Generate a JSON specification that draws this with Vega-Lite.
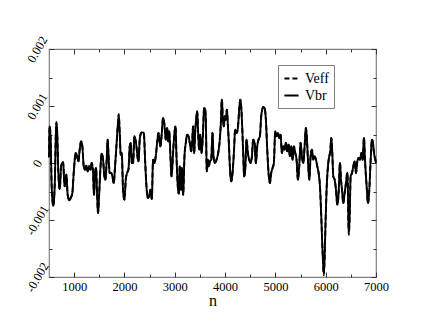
{
  "$schema": "https://vega.github.io/schema/vega-lite/v6.json",
  "width": 327,
  "height": 228,
  "autosize": {"type": "none"},
  "padding": {"left": 49, "top": 49, "right": 47, "bottom": 50},
  "background": "white",
  "config": {
    "view": {"stroke": "#808080", "strokeWidth": 1.2},
    "font": "Liberation Serif",
    "axis": {
      "domain": false,
      "grid": false,
      "tickColor": "#333333",
      "tickWidth": 1,
      "labelFont": "Liberation Serif",
      "labelFontSize": 12.5,
      "labelColor": "black",
      "titleFont": "Liberation Serif",
      "titleColor": "black",
      "titleFontWeight": "normal"
    }
  },
  "data": {
    "values": [
      {"n": 500, "Vbr": 0.0001, "Veff": 0.0001},
      {"n": 513, "Vbr": 0.000643, "Veff": 0.000643},
      {"n": 533, "Vbr": 0.000409, "Veff": 0.000409},
      {"n": 553, "Vbr": -0.000409, "Veff": -0.000409},
      {"n": 586, "Vbr": -0.000749, "Veff": -0.000749},
      {"n": 613, "Vbr": -0.000409, "Veff": -0.000409},
      {"n": 646, "Vbr": 0.00069, "Veff": 0.00072},
      {"n": 659, "Vbr": 0.000614, "Veff": 0.000614},
      {"n": 686, "Vbr": -0.000175, "Veff": -0.000175},
      {"n": 712, "Vbr": -0.000456, "Veff": -0.000456},
      {"n": 745, "Vbr": -0.000029, "Veff": -0.000029},
      {"n": 779, "Vbr": 0.000012, "Veff": 0.000012},
      {"n": 812, "Vbr": -0.000409, "Veff": -0.000409},
      {"n": 845, "Vbr": -0.000205, "Veff": -0.000205},
      {"n": 871, "Vbr": -0.000556, "Veff": -0.000556},
      {"n": 905, "Vbr": -0.000655, "Veff": -0.000655},
      {"n": 931, "Vbr": -0.000614, "Veff": -0.000614},
      {"n": 964, "Vbr": -0.000526, "Veff": -0.000526},
      {"n": 991, "Vbr": -0.000175, "Veff": -0.000175},
      {"n": 1031, "Vbr": 0.000175, "Veff": 0.000175},
      {"n": 1057, "Vbr": 0.000117, "Veff": 0.000117},
      {"n": 1084, "Vbr": 0.000029, "Veff": 0.000029},
      {"n": 1110, "Vbr": 0.000234, "Veff": 0.000234},
      {"n": 1137, "Vbr": 0.00038, "Veff": 0.00038},
      {"n": 1163, "Vbr": 0.000292, "Veff": 0.000292},
      {"n": 1190, "Vbr": -0.000058, "Veff": -0.000058},
      {"n": 1216, "Vbr": -0.000117, "Veff": -0.000117},
      {"n": 1243, "Vbr": -0.000047, "Veff": -0.000047},
      {"n": 1269, "Vbr": -0.000146, "Veff": -0.000146},
      {"n": 1296, "Vbr": -0.000058, "Veff": -0.000058},
      {"n": 1322, "Vbr": -0.000117, "Veff": -0.000117},
      {"n": 1349, "Vbr": 0.0, "Veff": 0.0},
      {"n": 1376, "Vbr": -0.000175, "Veff": -0.000175},
      {"n": 1395, "Vbr": -0.000556, "Veff": -0.000556},
      {"n": 1415, "Vbr": -0.000175, "Veff": -0.000175},
      {"n": 1435, "Vbr": -0.000088, "Veff": -0.000088},
      {"n": 1455, "Vbr": -0.000526, "Veff": -0.000526},
      {"n": 1475, "Vbr": -0.000877, "Veff": -0.000877},
      {"n": 1495, "Vbr": -0.000585, "Veff": -0.000585},
      {"n": 1521, "Vbr": -0.000117, "Veff": -0.000117},
      {"n": 1548, "Vbr": 0.000164, "Veff": 0.000164},
      {"n": 1575, "Vbr": 0.000058, "Veff": 0.000058},
      {"n": 1601, "Vbr": -0.000234, "Veff": -0.000234},
      {"n": 1621, "Vbr": -0.000292, "Veff": -0.000292},
      {"n": 1641, "Vbr": -0.000058, "Veff": -0.000058},
      {"n": 1667, "Vbr": 0.000409, "Veff": 0.000409},
      {"n": 1681, "Vbr": 0.000175, "Veff": 0.000175},
      {"n": 1707, "Vbr": -0.000175, "Veff": -0.000175},
      {"n": 1734, "Vbr": -0.000175, "Veff": -0.000175},
      {"n": 1760, "Vbr": -0.000234, "Veff": -0.000234},
      {"n": 1787, "Vbr": -0.000351, "Veff": -0.000351},
      {"n": 1813, "Vbr": -0.000058, "Veff": -0.000058},
      {"n": 1840, "Vbr": 0.000292, "Veff": 0.000292},
      {"n": 1866, "Vbr": 0.000643, "Veff": 0.000643},
      {"n": 1886, "Vbr": 0.000819, "Veff": 0.00086},
      {"n": 1906, "Vbr": 0.000526, "Veff": 0.000526},
      {"n": 1926, "Vbr": 0.000146, "Veff": 0.000146},
      {"n": 1946, "Vbr": 0.000175, "Veff": 0.000175},
      {"n": 1972, "Vbr": -0.000468, "Veff": -0.000468},
      {"n": 1999, "Vbr": -0.000643, "Veff": -0.000643},
      {"n": 2026, "Vbr": -0.000292, "Veff": -0.000292},
      {"n": 2052, "Vbr": -0.000175, "Veff": -0.000175},
      {"n": 2079, "Vbr": -0.000117, "Veff": -0.000117},
      {"n": 2105, "Vbr": 0.000292, "Veff": 0.000292},
      {"n": 2125, "Vbr": 0.000351, "Veff": 0.000351},
      {"n": 2145, "Vbr": 0.0, "Veff": 0.0},
      {"n": 2171, "Vbr": 0.0, "Veff": 0.0},
      {"n": 2198, "Vbr": 0.000468, "Veff": 0.000468},
      {"n": 2218, "Vbr": 0.000409, "Veff": 0.000409},
      {"n": 2238, "Vbr": 0.000292, "Veff": 0.000292},
      {"n": 2258, "Vbr": 0.000117, "Veff": 0.000117},
      {"n": 2278, "Vbr": 0.000029, "Veff": 0.000029},
      {"n": 2304, "Vbr": 0.000409, "Veff": 0.000409},
      {"n": 2331, "Vbr": 0.000526, "Veff": 0.000526},
      {"n": 2357, "Vbr": 0.000538, "Veff": 0.000538},
      {"n": 2384, "Vbr": 0.000526, "Veff": 0.000526},
      {"n": 2410, "Vbr": 0.000058, "Veff": 0.000058},
      {"n": 2437, "Vbr": -0.000409, "Veff": -0.000409},
      {"n": 2463, "Vbr": -0.000614, "Veff": -0.000614},
      {"n": 2490, "Vbr": -0.000585, "Veff": -0.000585},
      {"n": 2516, "Vbr": -0.000468, "Veff": -0.000468},
      {"n": 2543, "Vbr": -0.000632, "Veff": -0.000632},
      {"n": 2569, "Vbr": 0.000058, "Veff": 0.000058},
      {"n": 2596, "Vbr": 0.0, "Veff": 0.0},
      {"n": 2622, "Vbr": 0.000117, "Veff": 0.000117},
      {"n": 2649, "Vbr": 0.000351, "Veff": 0.000351},
      {"n": 2676, "Vbr": 0.000526, "Veff": 0.000526},
      {"n": 2695, "Vbr": 0.000409, "Veff": 0.000409},
      {"n": 2715, "Vbr": 0.000292, "Veff": 0.000292},
      {"n": 2742, "Vbr": 0.000526, "Veff": 0.000526},
      {"n": 2768, "Vbr": 0.000789, "Veff": 0.000789},
      {"n": 2795, "Vbr": 0.000673, "Veff": 0.000673},
      {"n": 2821, "Vbr": 0.000409, "Veff": 0.000409},
      {"n": 2848, "Vbr": 0.000614, "Veff": 0.000614},
      {"n": 2868, "Vbr": 0.00038, "Veff": 0.00038},
      {"n": 2888, "Vbr": 0.000556, "Veff": 0.000556},
      {"n": 2914, "Vbr": 0.000117, "Veff": 0.000117},
      {"n": 2934, "Vbr": -0.000234, "Veff": -0.000234},
      {"n": 2954, "Vbr": -0.000029, "Veff": -0.000029},
      {"n": 2974, "Vbr": 0.000292, "Veff": 0.000292},
      {"n": 2994, "Vbr": 0.000526, "Veff": 0.000526},
      {"n": 3014, "Vbr": 0.000643, "Veff": 0.000643},
      {"n": 3034, "Vbr": 0.000117, "Veff": 0.000117},
      {"n": 3060, "Vbr": -0.000409, "Veff": -0.000409},
      {"n": 3080, "Vbr": -0.000538, "Veff": -0.000538},
      {"n": 3100, "Vbr": -0.000058, "Veff": -0.000058},
      {"n": 3120, "Vbr": -0.000468, "Veff": -0.000468},
      {"n": 3140, "Vbr": -0.000088, "Veff": -0.000088},
      {"n": 3166, "Vbr": -0.000556, "Veff": -0.000556},
      {"n": 3193, "Vbr": 0.000117, "Veff": 0.000117},
      {"n": 3219, "Vbr": 0.000351, "Veff": 0.000351},
      {"n": 3246, "Vbr": 0.000497, "Veff": 0.000497},
      {"n": 3272, "Vbr": 0.000468, "Veff": 0.000468},
      {"n": 3299, "Vbr": 0.000351, "Veff": 0.000351},
      {"n": 3326, "Vbr": 0.000205, "Veff": 0.000205},
      {"n": 3345, "Vbr": 0.000351, "Veff": 0.000351},
      {"n": 3365, "Vbr": 0.000643, "Veff": 0.000643},
      {"n": 3385, "Vbr": 0.000175, "Veff": 0.000175},
      {"n": 3405, "Vbr": 0.000526, "Veff": 0.000526},
      {"n": 3425, "Vbr": 0.00076, "Veff": 0.00076},
      {"n": 3445, "Vbr": 0.000906, "Veff": 0.000906},
      {"n": 3465, "Vbr": 0.000526, "Veff": 0.000526},
      {"n": 3485, "Vbr": 0.000234, "Veff": 0.000234},
      {"n": 3505, "Vbr": 0.000497, "Veff": 0.000497},
      {"n": 3531, "Vbr": 0.000175, "Veff": 0.000175},
      {"n": 3558, "Vbr": 0.000468, "Veff": 0.000468},
      {"n": 3584, "Vbr": 0.000965, "Veff": 0.000965},
      {"n": 3604, "Vbr": 0.000936, "Veff": 0.000936},
      {"n": 3617, "Vbr": 0.00076, "Veff": 0.00076},
      {"n": 3637, "Vbr": -0.000146, "Veff": -0.000146},
      {"n": 3657, "Vbr": 0.000058, "Veff": 0.000058},
      {"n": 3677, "Vbr": -0.000058, "Veff": -0.000058},
      {"n": 3697, "Vbr": 0.000029, "Veff": 0.000029},
      {"n": 3724, "Vbr": 0.000058, "Veff": 0.000058},
      {"n": 3750, "Vbr": 0.000526, "Veff": 0.000526},
      {"n": 3770, "Vbr": 0.000117, "Veff": 0.000117},
      {"n": 3796, "Vbr": 0.0, "Veff": 0.0},
      {"n": 3830, "Vbr": 0.000058, "Veff": 0.000058},
      {"n": 3863, "Vbr": 0.000175, "Veff": 0.000175},
      {"n": 3889, "Vbr": 0.000351, "Veff": 0.000351},
      {"n": 3916, "Vbr": 0.000702, "Veff": 0.000702},
      {"n": 3936, "Vbr": 0.001111, "Veff": 0.001111},
      {"n": 3956, "Vbr": 0.00076, "Veff": 0.00076},
      {"n": 3976, "Vbr": 0.000643, "Veff": 0.000643},
      {"n": 3996, "Vbr": 0.000819, "Veff": 0.000819},
      {"n": 4015, "Vbr": 0.00076, "Veff": 0.00076},
      {"n": 4035, "Vbr": 0.000936, "Veff": 0.000936},
      {"n": 4055, "Vbr": 0.000673, "Veff": 0.000673},
      {"n": 4075, "Vbr": 0.000351, "Veff": 0.000351},
      {"n": 4095, "Vbr": -0.000058, "Veff": -0.000058},
      {"n": 4122, "Vbr": -0.000322, "Veff": -0.000322},
      {"n": 4148, "Vbr": -0.000175, "Veff": -0.000175},
      {"n": 4175, "Vbr": 0.000175, "Veff": 0.000175},
      {"n": 4201, "Vbr": 0.000585, "Veff": 0.000585},
      {"n": 4228, "Vbr": 0.000526, "Veff": 0.000526},
      {"n": 4254, "Vbr": 0.000614, "Veff": 0.000614},
      {"n": 4281, "Vbr": 0.000936, "Veff": 0.000936},
      {"n": 4301, "Vbr": 0.001111, "Veff": 0.001111},
      {"n": 4320, "Vbr": 0.000994, "Veff": 0.000994},
      {"n": 4340, "Vbr": 0.000643, "Veff": 0.000643},
      {"n": 4360, "Vbr": 0.000175, "Veff": 0.000175},
      {"n": 4380, "Vbr": -0.000234, "Veff": -0.000234},
      {"n": 4400, "Vbr": -0.000117, "Veff": -0.000117},
      {"n": 4427, "Vbr": 0.000409, "Veff": 0.000409},
      {"n": 4453, "Vbr": 0.000175, "Veff": 0.000175},
      {"n": 4480, "Vbr": 0.000058, "Veff": 0.000058},
      {"n": 4506, "Vbr": 0.0, "Veff": 0.0},
      {"n": 4533, "Vbr": 0.000117, "Veff": 0.000117},
      {"n": 4559, "Vbr": 0.000409, "Veff": 0.000409},
      {"n": 4586, "Vbr": 0.000351, "Veff": 0.000351},
      {"n": 4612, "Vbr": 0.0, "Veff": 0.0},
      {"n": 4639, "Vbr": 0.000292, "Veff": 0.000292},
      {"n": 4665, "Vbr": 0.000409, "Veff": 0.000409},
      {"n": 4692, "Vbr": 0.000468, "Veff": 0.000468},
      {"n": 4718, "Vbr": 0.000819, "Veff": 0.000819},
      {"n": 4738, "Vbr": 0.000936, "Veff": 0.000936},
      {"n": 4758, "Vbr": 0.000982, "Veff": 0.000982},
      {"n": 4785, "Vbr": 0.000965, "Veff": 0.000965},
      {"n": 4811, "Vbr": 0.00076, "Veff": 0.00076},
      {"n": 4838, "Vbr": 0.000234, "Veff": 0.000234},
      {"n": 4864, "Vbr": -0.000175, "Veff": -0.000175},
      {"n": 4891, "Vbr": -0.000351, "Veff": -0.000351},
      {"n": 4917, "Vbr": -0.000175, "Veff": -0.000175},
      {"n": 4944, "Vbr": -0.000088, "Veff": -0.000088},
      {"n": 4970, "Vbr": 0.0, "Veff": 0.0},
      {"n": 4997, "Vbr": 0.000556, "Veff": 0.000556},
      {"n": 5023, "Vbr": 0.000468, "Veff": 0.000468},
      {"n": 5050, "Vbr": 0.000526, "Veff": 0.000526},
      {"n": 5077, "Vbr": 0.000439, "Veff": 0.000439},
      {"n": 5103, "Vbr": 0.000497, "Veff": 0.000497},
      {"n": 5130, "Vbr": 0.000175, "Veff": 0.000175},
      {"n": 5156, "Vbr": 0.000292, "Veff": 0.000292},
      {"n": 5183, "Vbr": 0.000234, "Veff": 0.000234},
      {"n": 5209, "Vbr": 0.000351, "Veff": 0.000351},
      {"n": 5236, "Vbr": 0.000205, "Veff": 0.000205},
      {"n": 5262, "Vbr": 0.000322, "Veff": 0.000322},
      {"n": 5289, "Vbr": 0.000117, "Veff": 0.000117},
      {"n": 5315, "Vbr": 0.000292, "Veff": 0.000292},
      {"n": 5342, "Vbr": 0.000058, "Veff": 0.000058},
      {"n": 5368, "Vbr": 0.000292, "Veff": 0.000292},
      {"n": 5395, "Vbr": 0.000175, "Veff": 0.000175},
      {"n": 5421, "Vbr": 0.000058, "Veff": 0.000058},
      {"n": 5448, "Vbr": -0.000292, "Veff": -0.000292},
      {"n": 5474, "Vbr": -0.000058, "Veff": -0.000058},
      {"n": 5501, "Vbr": 0.000351, "Veff": 0.000351},
      {"n": 5528, "Vbr": 0.000117, "Veff": 0.000117},
      {"n": 5554, "Vbr": 0.0, "Veff": 0.0},
      {"n": 5581, "Vbr": 0.000292, "Veff": 0.000292},
      {"n": 5607, "Vbr": 0.000614, "Veff": 0.000614},
      {"n": 5627, "Vbr": 0.000409, "Veff": 0.000409},
      {"n": 5654, "Vbr": -0.000058, "Veff": -0.000058},
      {"n": 5674, "Vbr": -0.000292, "Veff": -0.000292},
      {"n": 5700, "Vbr": 0.000117, "Veff": 0.000117},
      {"n": 5727, "Vbr": 0.000234, "Veff": 0.000234},
      {"n": 5753, "Vbr": 0.000058, "Veff": 0.000058},
      {"n": 5780, "Vbr": 0.000117, "Veff": 0.000117},
      {"n": 5806, "Vbr": 0.000058, "Veff": 0.000058},
      {"n": 5833, "Vbr": -0.000058, "Veff": -0.000058},
      {"n": 5859, "Vbr": -0.000175, "Veff": -0.000175},
      {"n": 5886, "Vbr": -0.000409, "Veff": -0.000409},
      {"n": 5912, "Vbr": -0.000936, "Veff": -0.000936},
      {"n": 5939, "Vbr": -0.001579, "Veff": -0.001579},
      {"n": 5962, "Vbr": -0.001918, "Veff": -0.00197},
      {"n": 5975, "Vbr": -0.001754, "Veff": -0.001754},
      {"n": 5995, "Vbr": -0.001111, "Veff": -0.001111},
      {"n": 6018, "Vbr": -0.000468, "Veff": -0.000468},
      {"n": 6045, "Vbr": -0.000058, "Veff": -0.000058},
      {"n": 6071, "Vbr": 0.000117, "Veff": 0.000117},
      {"n": 6091, "Vbr": 0.000205, "Veff": 0.000205},
      {"n": 6111, "Vbr": 0.000439, "Veff": 0.000439},
      {"n": 6131, "Vbr": 0.000175, "Veff": 0.000175},
      {"n": 6151, "Vbr": -0.000234, "Veff": -0.000234},
      {"n": 6178, "Vbr": -0.000292, "Veff": -0.000292},
      {"n": 6204, "Vbr": -0.000468, "Veff": -0.000468},
      {"n": 6231, "Vbr": -0.000731, "Veff": -0.000731},
      {"n": 6257, "Vbr": -0.000526, "Veff": -0.000526},
      {"n": 6284, "Vbr": 0.0, "Veff": 0.0},
      {"n": 6304, "Vbr": -0.000292, "Veff": -0.000292},
      {"n": 6324, "Vbr": -0.000468, "Veff": -0.000468},
      {"n": 6350, "Vbr": -0.000702, "Veff": -0.000702},
      {"n": 6377, "Vbr": -0.000526, "Veff": -0.000526},
      {"n": 6403, "Vbr": -0.000351, "Veff": -0.000351},
      {"n": 6430, "Vbr": -0.000175, "Veff": -0.000175},
      {"n": 6460, "Vbr": -0.001199, "Veff": -0.00126},
      {"n": 6478, "Vbr": -0.000877, "Veff": -0.000877},
      {"n": 6496, "Vbr": -0.000234, "Veff": -0.000234},
      {"n": 6523, "Vbr": -0.000175, "Veff": -0.000175},
      {"n": 6549, "Vbr": -0.000058, "Veff": -0.000058},
      {"n": 6576, "Vbr": 0.000029, "Veff": 0.000029},
      {"n": 6602, "Vbr": -0.000175, "Veff": -0.000175},
      {"n": 6629, "Vbr": 0.000029, "Veff": 0.000029},
      {"n": 6655, "Vbr": 0.000088, "Veff": 0.000088},
      {"n": 6682, "Vbr": 0.000058, "Veff": 0.000058},
      {"n": 6708, "Vbr": 0.000175, "Veff": 0.000175},
      {"n": 6735, "Vbr": 0.000058, "Veff": 0.000058},
      {"n": 6761, "Vbr": 0.000439, "Veff": 0.000439},
      {"n": 6781, "Vbr": 0.000058, "Veff": 0.000058},
      {"n": 6814, "Vbr": -0.000409, "Veff": -0.000409},
      {"n": 6841, "Vbr": -0.000702, "Veff": -0.000702},
      {"n": 6867, "Vbr": -0.000468, "Veff": -0.000468},
      {"n": 6894, "Vbr": 0.000058, "Veff": 0.000058},
      {"n": 6920, "Vbr": 0.000409, "Veff": 0.000409},
      {"n": 6940, "Vbr": 0.000351, "Veff": 0.000351},
      {"n": 6960, "Vbr": 0.000175, "Veff": 0.000175},
      {"n": 6987, "Vbr": 0.000058, "Veff": 0.000058},
      {"n": 7000, "Vbr": 0.0, "Veff": 0.0}
    ]
  },
  "transform": [{"fold": ["Veff", "Vbr"], "as": ["series", "value"]}],
  "layer": [
    {
      "mark": {"type": "line", "interpolate": "monotone", "strokeWidth": 1.9, "color": "black"},
      "encoding": {
        "x": {
          "field": "n", "type": "quantitative",
          "scale": {"domain": [500, 7000], "nice": false, "zero": false},
          "axis": {
            "orient": "bottom",
            "values": [1000, 2000, 3000, 4000, 5000, 6000, 7000],
            "format": "d",
            "tickSize": -5,
            "labelPadding": 8,
            "labelFlush": false,
            "labelOverlap": false,
            "title": "n",
            "titleFontSize": 16,
            "titlePadding": 0
          }
        },
        "y": {
          "field": "value", "type": "quantitative",
          "scale": {"domain": [-0.002, 0.002], "nice": false, "zero": false},
          "axis": {
            "orient": "left",
            "values": [-0.002, -0.001, 0, 0.001, 0.002],
            "labelExpr": "datum.value == 0 ? '0' : (datum.value < 0 ? '-' : '') + format(abs(datum.value), '.3f')",
            "tickSize": -5,
            "labelAngle": -60,
            "labelAlign": "center",
            "labelBaseline": "middle",
            "labelPadding": 17,
            "labelFlush": false,
            "labelOverlap": false,
            "title": null
          }
        },
        "strokeDash": {
          "field": "series", "type": "nominal",
          "scale": {"domain": ["Veff", "Vbr"], "range": [[5, 3], [1, 0]]},
          "legend": {
            "orient": "none",
            "legendX": 229,
            "legendY": 16,
            "title": null,
            "strokeColor": "#808080",
            "fillColor": "white",
            "padding": 5,
            "symbolType": "stroke",
            "symbolSize": 200,
            "symbolStrokeWidth": 2,
            "symbolStrokeColor": "black",
            "labelFont": "Liberation Serif",
            "labelFontSize": 14,
            "labelColor": "black",
            "labelOffset": 5,
            "rowPadding": 1
          }
        }
      }
    },
    {
      "mark": {"type": "line", "opacity": 0},
      "encoding": {
        "x": {
          "field": "n", "type": "quantitative",
          "scale": {"domain": [500, 7000], "nice": false, "zero": false},
          "axis": {"orient": "top", "values": [1000, 2000, 3000, 4000, 5000, 6000, 7000], "tickSize": -5, "labels": false, "title": null}
        },
        "y": {
          "field": "value", "type": "quantitative",
          "scale": {"domain": [-0.002, 0.002], "nice": false, "zero": false},
          "axis": {"orient": "right", "values": [-0.002, -0.001, 0, 0.001, 0.002], "tickSize": -5, "labels": false, "title": null}
        },
        "detail": {"field": "series", "type": "nominal"}
      }
    },
    {
      "mark": {"type": "line", "opacity": 0},
      "encoding": {
        "x": {
          "field": "n", "type": "quantitative",
          "scale": {"domain": [500, 7000], "nice": false, "zero": false},
          "axis": {"orient": "bottom", "values": [1500, 2500, 3500, 4500, 5500, 6500], "tickSize": -3, "labels": false, "title": null}
        },
        "y": {
          "field": "value", "type": "quantitative",
          "scale": {"domain": [-0.002, 0.002], "nice": false, "zero": false},
          "axis": {"orient": "left", "values": [-0.0015, -0.0005, 0.0005, 0.0015], "tickSize": -3, "labels": false, "title": null}
        },
        "detail": {"field": "series", "type": "nominal"}
      }
    },
    {
      "mark": {"type": "line", "opacity": 0},
      "encoding": {
        "x": {
          "field": "n", "type": "quantitative",
          "scale": {"domain": [500, 7000], "nice": false, "zero": false},
          "axis": {"orient": "top", "values": [1500, 2500, 3500, 4500, 5500, 6500], "tickSize": -3, "labels": false, "title": null}
        },
        "y": {
          "field": "value", "type": "quantitative",
          "scale": {"domain": [-0.002, 0.002], "nice": false, "zero": false},
          "axis": {"orient": "right", "values": [-0.0015, -0.0005, 0.0005, 0.0015], "tickSize": -3, "labels": false, "title": null}
        },
        "detail": {"field": "series", "type": "nominal"}
      }
    }
  ],
  "resolve": {"axis": {"x": "independent", "y": "independent"}}
}
